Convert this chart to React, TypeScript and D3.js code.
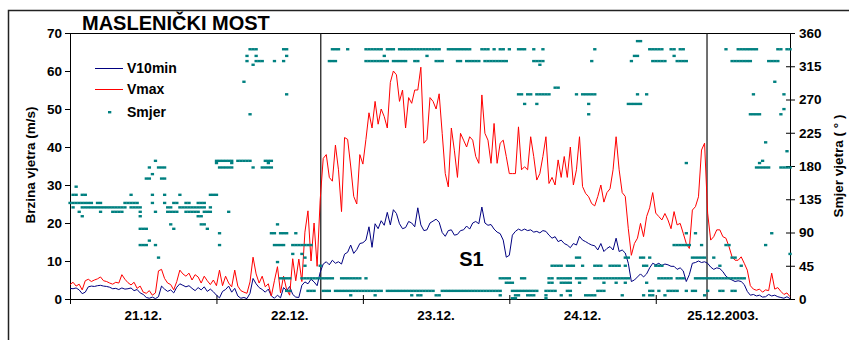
import { useEffect } from 'react'
import * as d3 from 'd3'

const width = 849
const height = 340

const marginLeft = 70
const marginRight = 790
const marginTop = 33
const marginBottom = 299

const font = '"Liberation Sans", Arial, Helvetica, sans-serif'

// one sample every 30 minutes, starting 21.12. 00:00
const stepHours = 0.5
const endHour = 118
const dayTicks = [0, 24, 48, 72, 96]
const dayLabels = ['21.12.', '22.12.', '23.12.', '24.12.', '25.12.2003.']
const eventHours = [41.1, 104.4]

const speedTicks = [0, 10, 20, 30, 40, 50, 60, 70]
const dirTicks = [0, 45, 90, 135, 180, 225, 270, 315, 360]

const v10min = [
    2.8, 2.7, 2.9, 2.4, 1.4, 1.8, 3.2, 3.4, 3.3, 3.5, 3.6, 3.4, 3.3, 3.1, 2.7, 2.8, 2.5, 2.9, 2.6, 2.7, 2.9, 2.2, 2.5, 1.6,
    1.2, 0.4, 0.2, 0.5, 0.1, 0.6, 3.4, 2.6, 2.0, 2.4, 1.6, 3.1, 4.0, 3.6, 3.2, 3.5, 2.8, 2.2, 3.0, 2.4, 3.2, 2.0, 2.6, 1.9,
    1.0, 0.3, 2.0, 2.5, 3.4, 1.8, 2.8, 0.8, 0.2, 0.4, 0.1, 1.5, 5.4, 4.0, 3.0, 2.5, 1.8, 2.6, 0.8, 0.2, 1.0, 0.3, 3.0, 2.2,
    3.3, 1.2, 0.5, 0.4, 3.6, 4.5, 4.0, 5.2, 4.5, 3.5, 7.0, 9.2, 9.8, 9.0, 10.2, 9.4, 9.8, 9.2, 11.8, 12.3, 14.2, 12.0, 13.0, 14.6,
    14.8, 15.5, 19.0, 13.6, 19.8, 18.5, 20.6, 19.4, 22.8, 19.5, 23.5, 22.5, 19.8, 18.5, 18.8, 20.4, 20.0, 19.0, 24.0, 19.5,
    18.0, 18.2, 20.0, 20.5, 21.0, 20.2, 17.5, 16.5, 18.0, 18.2, 16.8, 17.0, 18.0, 18.2, 19.2, 18.4, 20.0, 20.4, 19.8, 24.2,
    20.0, 19.4, 19.6, 18.4, 17.6, 17.2, 15.5, 11.0,
    11.5, 16.8, 17.8, 18.4, 18.0, 18.4, 18.0, 18.2, 17.6, 17.8, 17.4, 18.0, 17.8, 16.8, 16.0, 16.4, 15.1, 15.5, 14.6, 14.2,
    13.5, 14.6, 14.2, 16.5, 15.5, 15.1, 14.6, 14.2, 14.0, 12.9, 14.6, 12.5, 13.3, 13.8, 12.9, 16.0, 12.5, 12.9, 12.1, 9.4,
    4.6, 5.0, 5.8, 6.6, 5.8, 6.6, 8.2, 9.4,
    9.0, 9.4, 8.8, 9.2, 9.0, 8.6, 8.6, 7.8, 8.2, 7.4, 4.6, 6.4, 9.4, 9.6, 10.0, 9.6, 9.8, 9.4, 8.4, 7.8, 8.2, 8.0, 7.2, 6.0,
    5.4, 5.0, 4.6, 4.8, 4.6, 3.8, 2.0, 1.0, 1.2, 0.8, 1.0, 0.5, 0.6, 1.2, 0.8, 1.0, 0.6, 0.4, 0.2, 0.6, 0.1,
]

const vmax = [
    3.8, 4.4, 3.4, 3.9, 2.4, 4.8, 5.2, 4.6, 5.0, 5.3, 5.8, 4.8, 4.6, 4.2, 3.9, 4.4, 4.2, 6.4, 5.2, 4.3, 3.7, 4.4, 2.8, 3.4,
    1.8, 1.5, 2.2, 1.0, 1.6, 7.4, 7.8, 5.4, 4.2, 3.8, 2.4, 4.6, 7.6, 6.6, 6.0, 6.8, 5.0, 6.4, 5.8, 4.2, 6.0, 4.8, 3.8, 5.0,
    3.5, 7.6, 3.5, 6.0, 4.2, 3.2, 7.6, 3.4, 2.2, 1.8, 1.5, 4.5, 11.0, 6.6, 4.2, 6.0, 3.2, 4.0, 0.8, 4.8, 8.5, 1.6, 6.0, 2.5,
    1.0, 10.6, 4.8, 10.5, 4.6, 17.6, 23.2, 10.0, 20.0, 8.6, 26.0, 37.0, 38.0, 32.0, 31.0, 40.5, 34.0, 23.0, 42.5, 42.0, 35.0,
    27.0, 25.0, 38.0,
    35.5, 42, 49, 45, 52, 46, 50, 48, 45, 57, 60, 59, 52, 55, 45, 53, 51.5, 55, 55, 61, 41, 42, 53, 52, 50, 54, 43.6, 33,
    29.5, 45, 39, 32, 43.6, 41.8, 40, 42.7, 41.8, 37.5, 35.7, 53.7, 43.6, 41.8, 35.7, 46.2, 35.7, 41, 41.8, 37.5,
    33, 33, 33, 45.3, 34, 34.8, 34, 42.7, 37.5, 31.3, 33, 37.5, 42.7, 30.4, 32, 30, 36.6, 32, 37.5, 32, 40, 30, 34, 42.7,
    29.6, 27.8, 26.9, 25.1, 24.5, 27, 30, 25.5, 28, 29, 34, 42.7, 34, 28, 27, 18.5, 11.5, 14.6, 16, 19.9, 16.4, 21.7, 24, 28,
    22.6, 21.7, 20.8, 22.5, 20.8, 18.5, 23.0, 19.5, 19.9, 17.3, 14.6, 13.3, 23.4, 24.3, 26.9, 39.2, 41.0, 22.6, 15.5, 16.4,
    18.2, 18.2, 16.4, 16.0, 13.8, 11.1, 10.2, 10.2, 11.1, 9.4, 7.6, 3.5, 2.6, 2.3, 2.6, 1.8, 2.4, 2.2, 6.8, 2.6, 3.0, 2.0,
    1.2, 1.6, 0.6,
]

// wind direction: [degrees, sample indices where it was recorded]
const smjer: [number, number[]][] = [
    [349, [186, 187]],
    [338, [59, 60, 61, 70, 71, 86, 87, 88, 91, 97, 98, 99, 100, 101, 102, 104, 105, 106, 108, 109, 110, 111, 112, 113, 114,
        115, 116, 117, 118, 119, 120, 121, 124, 125, 126, 127, 128, 129, 130, 131, 135, 136, 137, 139, 141, 142, 144, 147,
        148, 149, 152, 155, 172, 190, 191, 192, 193, 194, 197, 198, 200, 201, 215, 219, 220, 221, 222, 223, 224, 225, 232,
        233, 235, 236]],
    [329, [58, 61, 71, 103, 117, 185, 186, 198]],
    [322, [58, 61, 62, 63, 67, 70, 85, 86, 87, 97, 98, 99, 100, 101, 102, 103, 104, 106, 107, 108, 109, 110, 113, 114, 120,
        121, 122, 127, 128, 130, 131, 132, 133, 134, 136, 137, 138, 139, 140, 141, 142, 143, 152, 153, 154, 155, 171, 184,
        191, 192, 193, 194, 195, 199, 200, 201, 202, 217, 218, 219, 220, 221, 222, 223, 229, 230, 231, 232]],
    [317, [60, 154]],
    [294, [57, 231]],
    [286, [159, 160]],
    [277, [71, 147, 148, 150, 151, 153, 154, 155, 156, 157, 166, 168, 169, 170, 171, 172, 186, 189, 224, 234]],
    [264, [149, 153, 170, 183, 184, 185, 186, 187]],
    [257, [234]],
    [250, [59, 170, 223, 224, 225, 226, 233]],
    [212, [228]],
    [200, [235]],
    [187, [28, 48, 49, 50, 51, 52, 53, 55, 56, 57, 58, 59, 64, 65, 66, 227]],
    [184, [48, 53, 65, 202, 226]],
    [178, [26, 29, 30, 31, 49, 50, 51, 52, 53, 60, 63, 64, 65, 66, 225, 226, 227, 228, 229, 233, 234, 235, 236]],
    [169, [27]],
    [163, [25, 26, 30, 31]],
    [152, [2]],
    [141, [1, 2, 4, 5, 20, 27, 31, 36, 46, 47, 48]],
    [130, [0, 1, 2, 3, 4, 5, 6, 7, 9, 10, 18, 19, 20, 21, 22, 27, 31, 34, 35, 38, 39, 42, 43, 44]],
    [124, [1, 4, 5, 6, 7, 8, 9, 10, 11, 12, 13, 14, 15, 16, 17, 18, 20, 21, 22, 23, 32, 33, 36, 37, 38, 39, 40, 41, 42, 43,
        44, 46]],
    [118, [3, 10, 14, 15, 16, 17, 23, 28, 32, 33, 34, 35, 38, 39, 40, 41, 42, 44, 45, 46, 52]],
    [112, [4, 23, 42, 43]],
    [101, [33, 43, 44, 68]],
    [95, [23, 24, 25, 34, 45]],
    [89, [49, 66, 67, 69, 70, 71, 74, 202, 205, 230]],
    [79, [26]],
    [73, [23, 24, 25, 28, 49, 67, 68, 69, 70, 73, 74, 75, 76, 77, 78, 79, 198, 199, 200, 201, 202, 203, 207, 215, 216, 228]],
    [61, [73, 76, 236]],
    [56, [29, 77, 166, 167, 182, 183, 187, 188, 190, 204, 205, 206, 207, 208, 211, 217, 218]],
    [50, [68]],
    [45, [77, 82, 158, 159, 160, 161, 163, 164, 165, 168, 172, 173, 174, 177, 178, 179, 180, 182, 188, 189, 192, 193, 194,
        213, 220]],
    [28, [69, 70, 71, 72, 76, 77, 78, 79, 80, 81, 82, 83, 84, 85, 86, 89, 90, 91, 92, 93, 94, 95, 97, 141, 142, 143, 144,
        148, 149, 157, 158, 160, 161, 162, 163, 164, 166, 167, 168, 169, 172, 173, 174, 175, 176, 177, 178, 179, 180, 181,
        182, 183, 193, 194, 195, 196, 197, 199, 200, 201, 205, 206, 207, 208, 209, 210, 211, 212, 213, 214, 215, 216, 217,
        218, 219, 220, 221]],
    [22, [143, 144, 145, 157, 158, 161, 162, 163, 164, 167, 175, 179, 182, 189]],
    [11, [71, 72, 78, 79, 80, 83, 84, 85, 87, 88, 89, 90, 91, 92, 93, 94, 95, 96, 97, 98, 99, 100, 101, 102, 104, 105, 106,
        107, 108, 109, 110, 111, 112, 113, 114, 115, 116, 117, 118, 119, 122, 123, 124, 125, 126, 127, 128, 129, 130, 131,
        132, 133, 134, 135, 136, 137, 138, 139, 140, 141, 145, 146, 147, 148, 149, 150, 151, 152, 153, 156, 157, 158, 159,
        163, 164, 173, 174, 175, 190, 191, 193, 196, 197, 198, 199, 202, 204, 205, 209, 213, 214, 217, 218]],
    [5, [92, 100, 112, 114, 115, 120, 121, 141, 146, 147, 150, 151, 152, 156, 161, 164, 169, 170, 171, 172, 181, 188, 190,
        191, 195, 208]],
    [1, [145, 146, 156]],
]

export default function App() {
    useEffect(() => {
        document.body.style.margin = '0'
    }, [])

    const x = d3.scaleLinear().domain([0, endHour]).range([marginLeft, marginRight])
    const ySpeed = d3.scaleLinear().domain([0, 70]).range([marginBottom, marginTop])
    const yDir = d3.scaleLinear().domain([0, 360]).range([marginBottom, marginTop])

    const line = d3
        .line<number>()
        .x((_, i) => x(i * stepHours))
        .y((d) => ySpeed(d))

    const dirPoints = smjer.flatMap(([deg, idx]) => idx.map((i) => ({ t: i * stepHours, deg })))

    const labelStyle = { fontFamily: font, fontWeight: 'bold' as const, fontSize: 13.5 }

    return (
        <svg
            width={width}
            height={height}
            style={{ position: 'absolute', left: 0, top: 0, background: 'white' }}
        >
            {/* chart area border */}
            <rect x={8.5} y={10.5} width={1000} height={1000} fill="none" stroke="#222" strokeWidth={1.5} />

            <text x={82} y={30} style={{ fontFamily: font, fontWeight: 'bold', fontSize: 20 }}>
                MASLENIČKI MOST
            </text>

            {/* plot frame */}
            <line x1={marginLeft} x2={marginRight} y1={marginTop + 0.5} y2={marginTop + 0.5} stroke="#000" />
            <line x1={marginLeft} x2={marginRight} y1={marginBottom + 0.5} y2={marginBottom + 0.5} stroke="#000" />
            <line x1={marginLeft + 0.5} x2={marginLeft + 0.5} y1={marginTop} y2={marginBottom + 5} stroke="#000" />
            <line x1={marginRight + 0.5} x2={marginRight + 0.5} y1={marginTop} y2={marginBottom} stroke="#000" />

            {/* left axis */}
            {speedTicks.map((t) => (
                <g key={'l' + t}>
                    <line x1={marginLeft - 5} x2={marginLeft} y1={ySpeed(t) + 0.5} y2={ySpeed(t) + 0.5} stroke="#000" />
                    <text x={marginLeft - 8} y={ySpeed(t)} dy="0.36em" textAnchor="end" style={labelStyle}>
                        {t}
                    </text>
                </g>
            ))}

            {/* right axis */}
            {dirTicks.map((t) => (
                <g key={'r' + t}>
                    <line x1={marginRight - 4} x2={marginRight + 5} y1={yDir(t) + 0.5} y2={yDir(t) + 0.5} stroke="#000" />
                    <text x={marginRight + 9} y={yDir(t)} dy="0.36em" style={labelStyle}>
                        {t}
                    </text>
                </g>
            ))}

            {/* bottom axis */}
            {dayTicks.map((t, i) => {
                const next = Math.min(t + 24, endHour)
                return (
                    <g key={'b' + t}>
                        <line x1={x(t) + 0.5} x2={x(t) + 0.5} y1={marginBottom - 4} y2={marginBottom + 5} stroke="#000" />
                        <text x={x((t + next) / 2)} y={320} textAnchor="middle" style={labelStyle}>
                            {dayLabels[i]}
                        </text>
                    </g>
                )
            })}

            <text
                transform={`translate(35,${(marginTop + marginBottom) / 2 - 1}) rotate(-90)`}
                textAnchor="middle"
                style={{ fontFamily: font, fontWeight: 'bold', fontSize: 13.5 }}
            >
                Brzina vjetra (m/s)
            </text>
            <text
                transform={`translate(843,${(marginTop + marginBottom) / 2}) rotate(-90)`}
                textAnchor="middle"
                style={{ fontFamily: font, fontWeight: 'bold', fontSize: 13.5 }}
            >
                Smjer vjetra ( ° )
            </text>

            {/* event markers */}
            {eventHours.map((h) => (
                <line key={h} x1={x(h)} x2={x(h)} y1={marginTop} y2={marginBottom} stroke="#111" strokeWidth={1.2} />
            ))}

            <path d={line(v10min) ?? ''} fill="none" stroke="#000080" strokeWidth={1} />
            <path d={line(vmax) ?? ''} fill="none" stroke="#ff0000" strokeWidth={1} />

            {dirPoints.map((p, i) => (
                <rect key={i} x={x(p.t) - 1.6} y={yDir(p.deg) - 1.2} width={3.3} height={2.4} fill="#008080" />
            ))}

            <text x={x(65.8)} y={ySpeed(8.7)} textAnchor="middle" style={{ fontFamily: font, fontWeight: 'bold', fontSize: 20 }}>
                S1
            </text>

            {/* legend */}
            <line x1={95} x2={123} y1={68.5} y2={68.5} stroke="#000080" />
            <text x={127} y={68} dy="0.36em" style={{ fontFamily: font, fontWeight: 'bold', fontSize: 14 }}>
                V10min
            </text>
            <line x1={95} x2={123} y1={89.5} y2={89.5} stroke="#ff0000" />
            <text x={127} y={89} dy="0.36em" style={{ fontFamily: font, fontWeight: 'bold', fontSize: 14 }}>
                Vmax
            </text>
            <rect x={108} y={111} width={3.3} height={2.4} fill="#008080" />
            <text x={127} y={112} dy="0.36em" style={{ fontFamily: font, fontWeight: 'bold', fontSize: 14 }}>
                Smjer
            </text>
        </svg>
    )
}
